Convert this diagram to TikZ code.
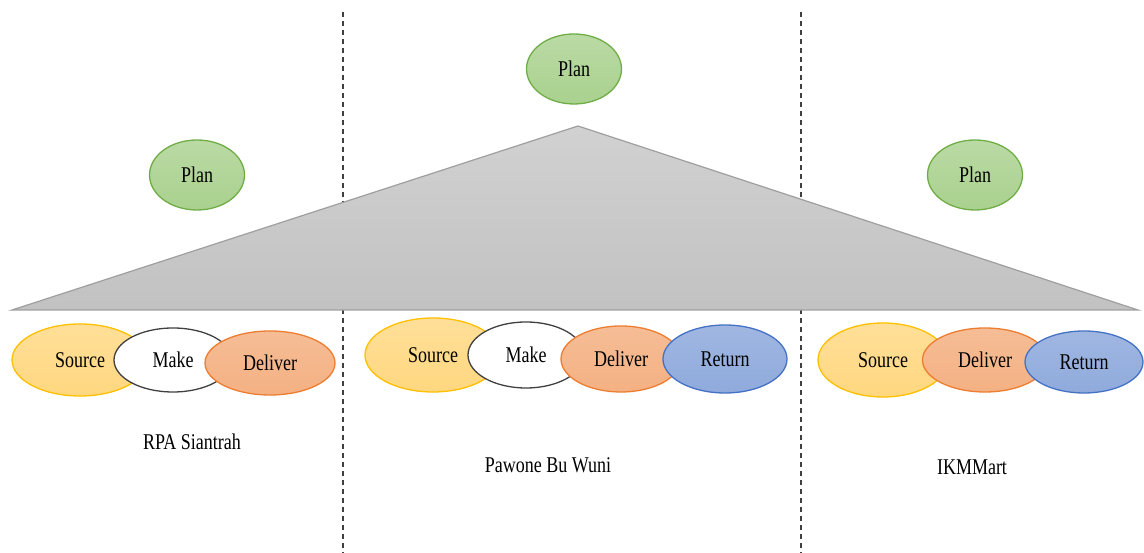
\documentclass[tikz,border=0pt]{standalone}
\usepackage{fontspec}
\setmainfont[FakeStretch=0.8]{Liberation Serif}
\usetikzlibrary{shapes.geometric}

\definecolor{plangreen}{HTML}{A9D18E}
\definecolor{planedge}{HTML}{70AD47}
\definecolor{srcfill}{HTML}{FFD77F}
\definecolor{srcedge}{HTML}{FFC000}
\definecolor{delfill}{HTML}{F4B183}
\definecolor{deledge}{HTML}{ED7D31}
\definecolor{retfill}{HTML}{8FAADC}
\definecolor{retedge}{HTML}{4472C4}

\begin{document}
\begin{tikzpicture}[x=1pt,y=1pt,
   font=\fontsize{22.5}{24}\selectfont,
   blob/.style={ellipse,inner sep=0pt,line width=1.3pt},
   plan/.style={blob,draw=planedge,top color=plangreen!80,bottom color=plangreen,
                minimum width=95pt,minimum height=70pt},
   source/.style={blob,draw=srcedge,top color=srcfill!80,bottom color=srcfill},
   make/.style={blob,draw=black!75,fill=white},
   deliver/.style={blob,draw=deledge,top color=delfill!85,bottom color=delfill},
   return/.style={blob,draw=retedge,top color=retfill!85,bottom color=retfill},
   divider/.style={dash pattern=on 5pt off 4pt,line width=1.2pt,black!75}]
   \useasboundingbox (0,0) rectangle (1144,553);
   % dashed separators
   \coordinate (d1top) at (343,541); \coordinate (d1bot) at (343,0);
   \coordinate (d2top) at (801,541); \coordinate (d2bot) at (801,0);
   \draw[divider] (d1top) -- (d1bot);
   \draw[divider] (d2top) -- (d2bot);
   % triangle
   \coordinate (apex) at (578,427);
   \coordinate (baseL) at (12,243);
   \coordinate (baseR) at (1138,243);
   \draw[gray!75,line width=1.2pt,top color=gray!36,bottom color=gray!48]
      (apex) -- (baseL) -- (baseR) -- cycle;
   % plans
   \node[plan] (planB) at (574,484) {Plan};
   \node[plan] (planA) at (197,378) {Plan};
   \node[plan] (planC) at (975,378) {Plan};
   % RPA Siantrah
   \node[source,minimum width=136pt,minimum height=72pt] (srcA) at (80,193) {Source};
   \node[make,minimum width=118pt,minimum height=64pt] (makeA) at (173,193) {Make};
   \node[deliver,minimum width=130pt,minimum height=64pt] (delA) at (270,190) {Deliver};
   \node (nameA) at (192,111) {RPA Siantrah};
   % Pawone Bu Wuni
   \node[source,minimum width=136pt,minimum height=74pt] (srcB) at (433,198) {Source};
   \node[make,minimum width=116pt,minimum height=66pt] (makeB) at (526,198) {Make};
   \node[deliver,minimum width=120pt,minimum height=66pt] (delB) at (621,194) {Deliver};
   \node[return,minimum width=124pt,minimum height=68pt] (retB) at (725,194) {Return};
   \node (nameB) at (548,88) {Pawone Bu Wuni};
   % IKMMart
   \node[source,minimum width=130pt,minimum height=74pt] (srcC) at (883,193) {Source};
   \node[deliver,minimum width=125pt,minimum height=64pt] (delC) at (985,193) {Deliver};
   \node[return,minimum width=118pt,minimum height=62pt] (retC) at (1084,191) {Return};
   \node (nameC) at (972,86) {IKMMart};
\end{tikzpicture}
\end{document}
